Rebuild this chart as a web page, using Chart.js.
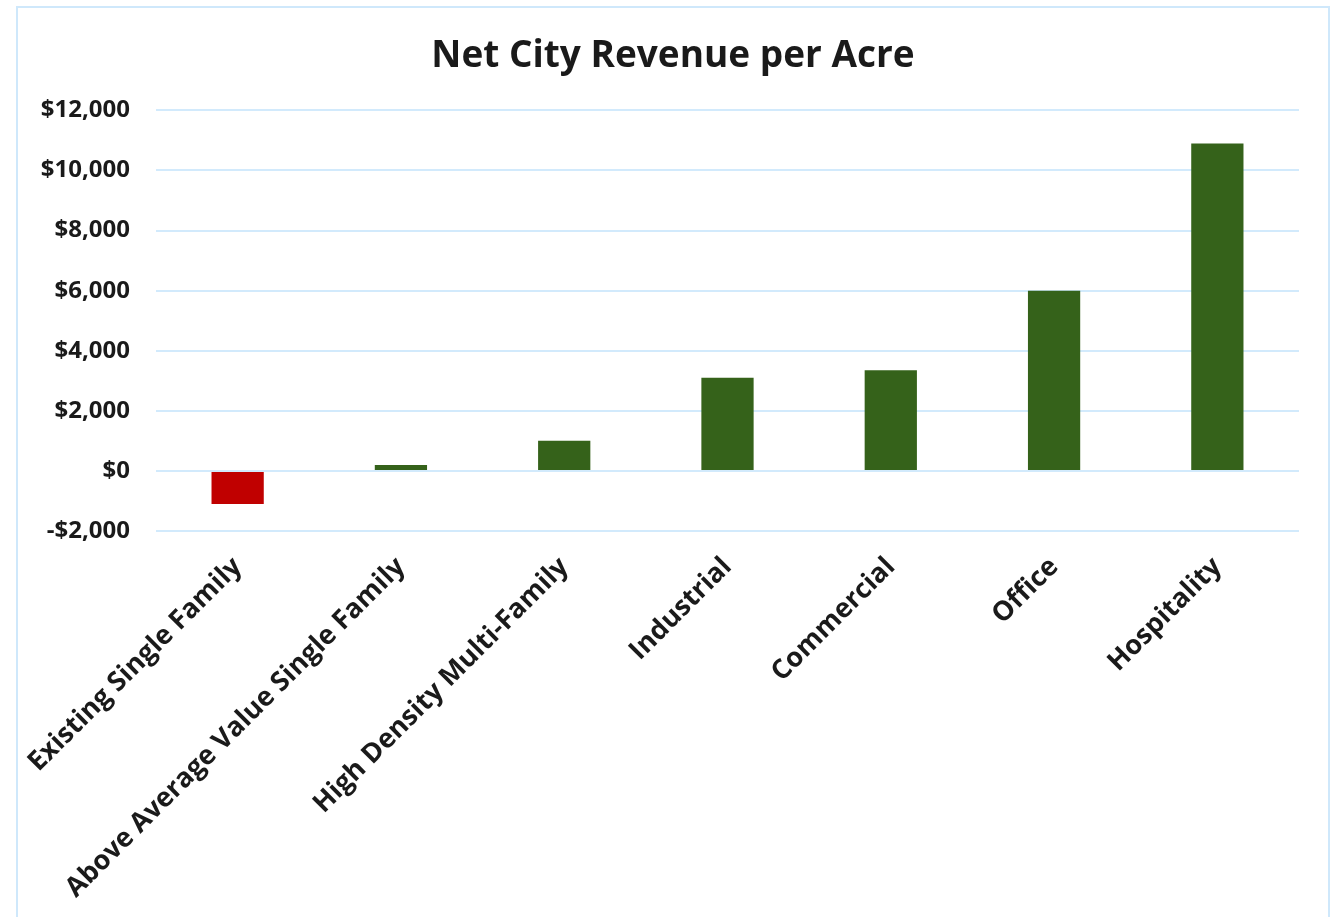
<!DOCTYPE html>
<html>
<head>
<meta charset="utf-8">
<script src="https://cdn.jsdelivr.net/npm/chart.js@4"></script>
<style>
  html, body { margin: 0; padding: 0; background: #ffffff; overflow: hidden; }
  .frame {
    position: absolute;
    left: 16px;
    top: 6px;
    width: 1310px;
    height: 930px;
    border: 2px solid #cfe8fb;
    background: #ffffff;
  }
  .frame canvas { display: block; }
</style>
</head>
<body>
<div class="frame">
  <canvas id="revenueChart" width="1310" height="930"></canvas>
</div>
<script>
const categories = [
  "Existing Single Family",
  "Above Average Value Single Family",
  "High Density Multi-Family",
  "Industrial",
  "Commercial",
  "Office",
  "Hospitality",
];
const revenuePerAcre = [-1100, 200, 1000, 3100, 3350, 6000, 10900];
const yTicks = [-2000, 0, 2000, 4000, 6000, 8000, 10000, 12000];

const colors = {
  green: "#35621a",
  red: "#c00000",
  grid: "#d2eafc",
  text: "#1a1a1a",
};

const fontFamily = "'Open Sans', sans-serif";

function formatDollars(v) {
  const abs = Math.abs(v).toLocaleString("en-US");
  return (v < 0 ? "-$" : "$") + abs;
}

new Chart(document.getElementById("revenueChart"), {
  type: "bar",
  data: {
    labels: categories,
    datasets: [
      {
        label: "Net City Revenue per Acre",
        data: revenuePerAcre,
        backgroundColor: revenuePerAcre.map((v) => (v < 0 ? colors.red : colors.green)),
        borderWidth: 0,
        barPercentage: 0.64,
        categoryPercentage: 0.5,
      },
    ],
  },
  options: {
    responsive: false,
    animation: false,
    layout: { padding: 0 },
    plugins: {
      legend: { display: false },
      tooltip: { enabled: false },
      title: {
        display: true,
        text: "Net City Revenue per Acre",
        color: colors.text,
        font: { family: fontFamily, size: 37, weight: "bold" },
        padding: { top: 26, bottom: 32 },
      },
    },
    scales: {
      x: {
        grid: { display: false },
        border: { display: false },
        ticks: {
          color: colors.text,
          font: { family: fontFamily, size: 27, weight: "bold" },
          maxRotation: 45,
          minRotation: 45,
          autoSkip: false,
          padding: 12,
        },
        afterFit: (scale) => {
          // rotated labels may hang past the plot edges, as in the original
          scale.height = 930 - 523;
          scale.paddingLeft = 0;
          scale.paddingRight = 29;
        },
      },
      y: {
        min: -2000,
        max: 12000,
        afterBuildTicks: (scale) => {
          scale.ticks = yTicks.map((v) => ({ value: v }));
        },
        afterFit: (scale) => {
          scale.width = 138;
        },
        grid: { color: colors.grid, lineWidth: 2, drawTicks: false },
        border: { display: false },
        ticks: {
          color: colors.text,
          font: { family: fontFamily, size: 24, weight: "bold" },
          padding: 26,
          callback: (v) => formatDollars(v),
        },
      },
    },
  },
});
</script>
</body>
</html>
